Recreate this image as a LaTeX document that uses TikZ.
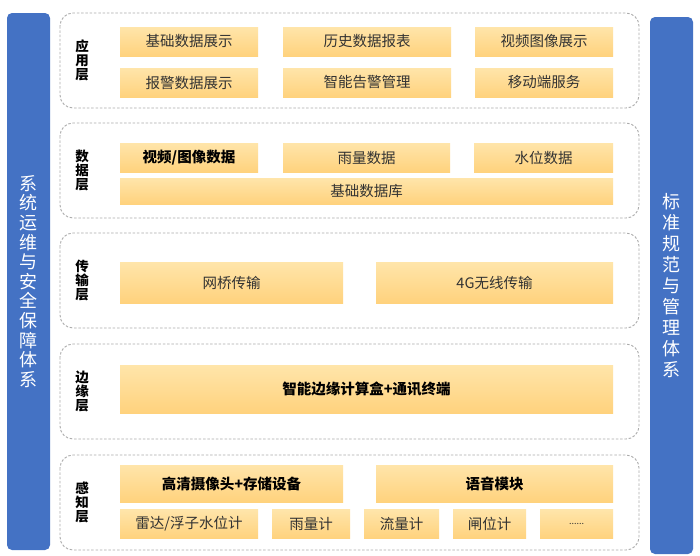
\documentclass[tikz,border=0pt]{standalone}
\usepackage{fontspec}
\setmainfont{Noto Sans CJK SC}
\definecolor{barblue}{RGB}{68,114,196}
\definecolor{dashgray}{RGB}{170,170,170}
\definecolor{boxtop}{RGB}{255,229,170}
\definecolor{boxbot}{RGB}{255,210,125}
\definecolor{txt}{RGB}{50,50,50}
\begin{document}
\begin{tikzpicture}[x=1pt,y=-1pt,
  bar/.style={fill=barblue,draw=none,rounded corners=5pt,text=white,align=center,
    font=\fontsize{18}{19.6}\selectfont},
  layer/.style={draw=dashgray,line width=0.9pt,dash pattern=on 2.5pt off 1.8pt,rounded corners=13pt},
  lab/.style={align=center,font=\fontsize{13.5}{14.2}\selectfont\bfseries,text=black},
  bx/.style={top color=boxtop,bottom color=boxbot,draw=none,inner sep=0pt,text=txt,
    font=\fontsize{14.5}{16}\selectfont},
  bxb/.style={bx,text=black,font=\fontsize{14.5}{16}\selectfont\bfseries}]
\useasboundingbox (0,0) rectangle (700,555);
\fill[white] (0,0) rectangle (700,555);
% side bars
\node[bar,minimum width=43pt,minimum height=537pt] (lbar) at (28.5,281.5)
  {系\\统\\运\\维\\与\\安\\全\\保\\障\\体\\系};
\node[bar,minimum width=43pt,minimum height=537pt,font=\fontsize{18}{21}\selectfont] (rbar) at (671.5,285.5)
  {标\\准\\规\\范\\与\\管\\理\\体\\系};
% layers
\draw[layer] (60,13) rectangle (639,108);
\draw[layer] (60,123) rectangle (639,218);
\draw[layer] (60,233) rectangle (639,328);
\draw[layer] (60,344) rectangle (639,439);
\draw[layer] (60,455) rectangle (639,550);
\node[lab] (l1) at (82,60.5) {应\\用\\层};
\node[lab] (l2) at (82,170.5) {数\\据\\层};
\node[lab] (l3) at (82,280.5) {传\\输\\层};
\node[lab] (l4) at (82,391.5) {边\\缘\\层};
\node[lab] (l5) at (82,502.5) {感\\知\\层};
% layer 1
\node[bx,minimum width=138pt,minimum height=29pt] (a1) at (189,41.5) {基础数据展示};
\node[bx,minimum width=168pt,minimum height=29pt] (a2) at (367,41.5) {历史数据报表};
\node[bx,minimum width=138pt,minimum height=29pt] (a3) at (544,41.5) {视频图像展示};
\node[bx,minimum width=138pt,minimum height=29pt] (a4) at (189,82.5) {报警数据展示};
\node[bx,minimum width=168pt,minimum height=29pt] (a5) at (367,82.5) {智能告警管理};
\node[bx,minimum width=138pt,minimum height=29pt] (a6) at (544,82.5) {移动端服务};
% layer 2
\node[bxb,minimum width=138pt,minimum height=29pt] (b1) at (189,157.5) {视频/图像数据};
\node[bx,minimum width=167pt,minimum height=29pt] (b2) at (366.5,157.5) {雨量数据};
\node[bx,minimum width=139pt,minimum height=29pt] (b3) at (543.5,157.5) {水位数据};
\node[bx,minimum width=493pt,minimum height=26pt] (b4) at (366.5,191) {基础数据库};
% layer 3
\node[bx,minimum width=223pt,minimum height=41pt] (c1) at (231.5,282.5) {网桥传输};
\node[bx,minimum width=237pt,minimum height=41pt] (c2) at (494.5,282.5) {4G无线传输};
% layer 4
\node[bxb,minimum width=493pt,minimum height=48pt] (d1) at (366.5,389) {智能边缘计算盒+通讯终端};
% layer 5
\node[bxb,minimum width=223pt,minimum height=37pt] (e1) at (231.5,483.5) {高清摄像头+存储设备};
\node[bxb,minimum width=237pt,minimum height=37pt] (e2) at (494.5,483.5) {语音模块};
\node[bx,minimum width=138pt,minimum height=29pt] (f1) at (189,524) {雷达/浮子水位计};
\node[bx,minimum width=78pt,minimum height=29pt] (f2) at (311,524) {雨量计};
\node[bx,minimum width=75pt,minimum height=29pt] (f3) at (401.5,524) {流量计};
\node[bx,minimum width=73pt,minimum height=29pt] (f4) at (489.5,524) {闸位计};
\node[bx,minimum width=73pt,minimum height=29pt,font=\fontsize{9}{10}\selectfont] (f5) at (576.5,524) {......};
\end{tikzpicture}
\end{document}
